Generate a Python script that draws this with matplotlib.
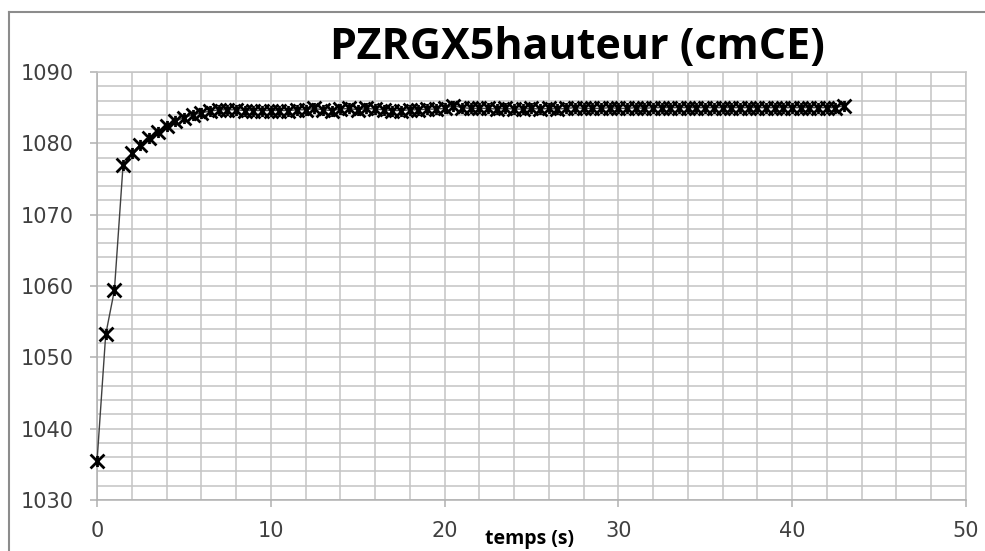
import matplotlib
matplotlib.use("Agg")
import matplotlib.pyplot as plt
from matplotlib.path import Path
from matplotlib.lines import Line2D
from matplotlib.ticker import MultipleLocator

# level record, sampled every half second
temps = [0.0, 0.5, 1.0, 1.5, 2.0, 2.5, 3.0, 3.5, 4.0, 4.5,
         5.0, 5.5, 6.0, 6.5, 7.0, 7.5, 8.0, 8.5, 9.0, 9.5,
         10.0, 10.5, 11.0, 11.5, 12.0, 12.5, 13.0, 13.5, 14.0, 14.5,
         15.0, 15.5, 16.0, 16.5, 17.0, 17.5, 18.0, 18.5, 19.0, 19.5,
         20.0, 20.5, 21.0, 21.5, 22.0, 22.5, 23.0, 23.5, 24.0, 24.5,
         25.0, 25.5, 26.0, 26.5, 27.0, 27.5, 28.0, 28.5, 29.0, 29.5,
         30.0, 30.5, 31.0, 31.5, 32.0, 32.5, 33.0, 33.5, 34.0, 34.5,
         35.0, 35.5, 36.0, 36.5, 37.0, 37.5, 38.0, 38.5, 39.0, 39.5,
         40.0, 40.5, 41.0, 41.5, 42.0, 42.5, 43.0]
hauteur = [1035.4, 1053.2, 1059.4, 1077.0, 1078.6, 1079.7, 1080.7, 1081.6, 1082.4, 1083.1,
           1083.6, 1084.0, 1084.3, 1084.5, 1084.7, 1084.7, 1084.7, 1084.6, 1084.6, 1084.6,
           1084.6, 1084.6, 1084.6, 1084.7, 1084.7, 1084.9, 1084.7, 1084.6, 1084.8, 1084.9,
           1084.7, 1084.9, 1084.8, 1084.7, 1084.6, 1084.6, 1084.7, 1084.7, 1084.8, 1084.8,
           1084.9, 1085.3, 1085.0, 1084.9, 1084.9, 1084.9, 1084.8, 1084.9, 1084.8, 1084.8,
           1084.9, 1084.8, 1084.9, 1084.8, 1084.9, 1085.0, 1084.9, 1084.9, 1084.9, 1085.0,
           1084.9, 1084.9, 1085.0, 1084.9, 1085.0, 1085.0, 1085.0, 1085.0, 1085.0, 1085.0,
           1085.0, 1085.0, 1085.0, 1085.0, 1085.0, 1085.0, 1085.0, 1085.0, 1085.0, 1085.0,
           1085.0, 1085.0, 1085.0, 1085.0, 1085.0, 1085.0, 1085.3]

GRID = "#c4c4c4"
TXT = "#404040"

# star marker: X with a vertical stroke
star = Path([(-1, -1), (1, 1), (-1, 1), (1, -1), (0, -0.8), (0, 0.8)],
            [Path.MOVETO, Path.LINETO, Path.MOVETO, Path.LINETO, Path.MOVETO, Path.LINETO])

fig = plt.figure(figsize=(9.85, 5.51), dpi=100)
ax = fig.add_axes([0.0985, 0.0926, 0.882, 0.7767])

ax.plot(temps, hauteur, color="#404040", lw=1.0, marker=star, ms=10,
        mew=2.0, mec="black", zorder=3, clip_on=False)

ax.set_xlim(0, 50)
ax.set_ylim(1030, 1090)
ax.xaxis.set_major_locator(MultipleLocator(10))
ax.yaxis.set_major_locator(MultipleLocator(10))
ax.xaxis.set_minor_locator(MultipleLocator(2))
ax.yaxis.set_minor_locator(MultipleLocator(2))
ax.grid(which="both", color=GRID, lw=1.1)
ax.set_axisbelow(True)

for s in ax.spines.values():
    s.set_color(GRID)
    s.set_linewidth(1.1)
ax.spines["left"].set_color("#b0b0b0")
ax.spines["bottom"].set_color("#b0b0b0")

ax.tick_params(which="major", direction="out", length=5, width=1.1, color="#b0b0b0",
               labelsize=15, labelcolor=TXT)
ax.tick_params(axis="x", which="major", pad=10)
ax.tick_params(axis="y", which="major", pad=12)
ax.tick_params(which="minor", length=0)

fig.text(0.586, 0.913, "PZRGX5hauteur (cmCE)", ha="center", va="center",
         fontsize=31, fontweight="bold", family="Open Sans", color="black")
fig.text(0.538, 0.022, "temps (s)", ha="center", va="center",
         fontsize=14, fontweight="bold", family="Open Sans", color="black")

# chart frame
bx, by = 9 / 985, 1 - 12 / 551
fig.add_artist(Line2D([bx, bx], [0, by], transform=fig.transFigure, color="#8c8c8c", lw=1.5))
fig.add_artist(Line2D([bx, 1], [by, by], transform=fig.transFigure, color="#8c8c8c", lw=1.5))

fig.savefig("out.png", dpi=100)
